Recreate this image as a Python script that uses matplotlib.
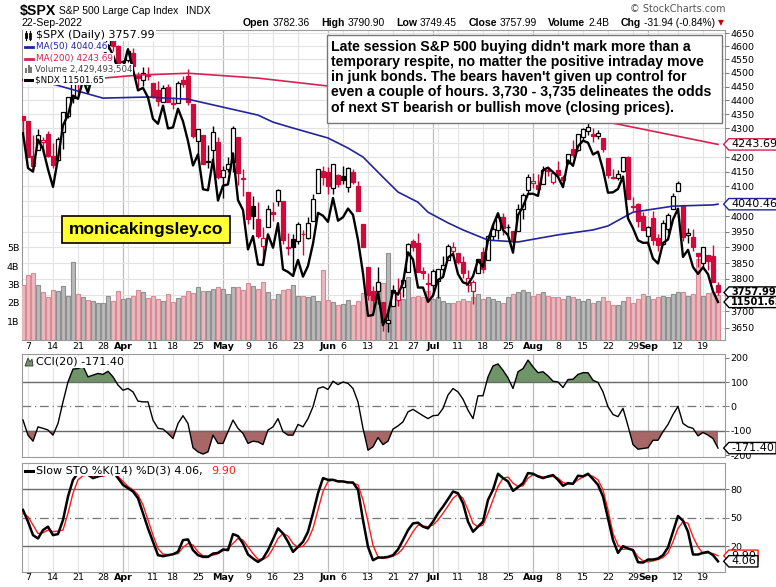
import numpy as np
import matplotlib
matplotlib.use("Agg")
import matplotlib.pyplot as plt
from matplotlib.path import Path
from matplotlib.patches import Rectangle, Polygon
from matplotlib.lines import Line2D
import matplotlib.transforms as mtrans
from matplotlib.ticker import NullLocator

# ---------------- data ----------------
spx_open = [4342.12, 4327.01, 4202.66, 4223.10, 4252.55, 4279.50, 4202.75, 4188.82, 4288.14, 4345.11,
            4407.34, 4462.40, 4469.10, 4493.10, 4469.98, 4522.91, 4541.09, 4602.86, 4624.20, 4599.02,
            4540.32, 4547.97, 4572.45, 4494.17, 4474.65, 4494.15, 4462.64, 4437.59, 4394.30, 4449.12,
            4385.63, 4390.63, 4472.26, 4489.17, 4385.83, 4255.34, 4278.14, 4186.52, 4222.58, 4253.75,
            4130.61, 4159.78, 4181.18, 4270.43, 4128.17, 4081.27, 4035.18, 3990.08, 3903.95, 3963.90,
            4013.02, 4052.00, 4051.98, 3899.00, 3927.76, 3919.42, 3942.94, 3929.59, 3984.60, 4077.43, 4151.09,
            4149.78, 4095.41, 4137.57, 4134.72, 4096.47, 4147.12, 4101.65, 3974.39, 3838.15, 3763.52,
            3764.05, 3728.18, 3665.90, 3715.31, 3733.89, 3774.71, 3821.75, 3920.76, 3913.00, 3825.09, 3785.99,
            3781.00, 3792.61, 3831.98, 3858.85, 3888.26, 3880.94, 3851.95, 3779.67, 3763.99, 3818.00,
            3883.79, 3860.73, 3935.32, 3955.47, 3998.43, 3965.72, 3953.22, 3951.43, 4026.13, 4087.33,
            4112.38, 4104.21, 4107.96, 4154.85, 4115.87, 4155.93, 4133.11, 4181.02, 4227.40, 4225.02,
            4269.37, 4290.46, 4280.40, 4273.13, 4266.31, 4195.08, 4133.09, 4126.55, 4153.26, 4198.74,
            4034.58, 4041.25, 4000.67,
            3936.73, 3994.66, 3930.89, 3909.43, 3959.94, 4022.94, 4083.67, 4037.12, 3940.73, 3932.41,
            3880.95, 3849.91, 3875.23, 3871.40, 3782.36]
spx_high = [4342.12, 4327.01, 4276.94, 4299.40, 4268.28, 4291.01, 4247.57, 4271.05, 4357.86, 4412.67,
            4465.40, 4481.75, 4522.00, 4501.07, 4520.58, 4546.03, 4575.65, 4637.30, 4627.77, 4603.07,
            4548.70, 4583.50, 4593.45, 4503.94, 4521.16, 4520.41, 4464.35, 4471.00, 4453.92, 4460.46,
            4410.31, 4471.03, 4488.29, 4512.94, 4385.83, 4299.02, 4278.14, 4240.71, 4308.45, 4269.68,
            4169.81, 4200.10, 4307.66, 4270.43, 4157.69, 4081.27, 4068.82, 4049.09, 3964.80, 4038.88,
            4046.46, 4090.72, 4051.98, 3945.96, 3943.42, 3981.88, 3955.68, 3999.33, 4075.14, 4158.49, 4168.34,
            4166.54, 4177.51, 4142.67, 4168.78, 4164.86, 4160.14, 4119.10, 3974.39, 3838.15, 3778.18,
            3837.56, 3728.18, 3707.71, 3779.65, 3801.79, 3802.58, 3913.65, 3927.72, 3945.86, 3836.50, 3818.99,
            3829.82, 3832.19, 3870.91, 3910.63, 3918.50, 3880.94, 3873.41, 3829.44, 3796.41, 3863.62,
            3902.44, 3939.81, 3974.13, 3999.29, 4012.44, 3975.30, 3953.22, 4039.56, 4078.95, 4140.15,
            4144.95, 4140.47, 4167.66, 4161.29, 4151.58, 4186.62, 4137.30, 4211.03, 4257.91, 4280.47,
            4301.79, 4325.28, 4302.18, 4292.53, 4266.31, 4195.08, 4159.77, 4156.56, 4200.54, 4203.04,
            4062.99, 4044.98, 4015.37,
            3970.23, 4018.43, 3942.55, 3987.89, 4010.50, 4076.81, 4119.28, 4037.12, 3961.94, 3959.14,
            3880.95, 3900.45, 3876.01, 3907.07, 3790.90]
spx_low = [4284.98, 4199.85, 4157.87, 4223.10, 4209.80, 4200.49, 4161.72, 4187.90, 4229.34, 4335.65,
           4390.57, 4424.30, 4469.10, 4455.81, 4465.17, 4501.07, 4517.69, 4589.66, 4581.32, 4530.41,
           4507.57, 4539.21, 4514.17, 4450.04, 4450.30, 4474.60, 4408.38, 4381.34, 4392.70, 4394.59,
           4370.30, 4390.63, 4448.76, 4384.47, 4267.62, 4200.82, 4175.04, 4162.90, 4188.63, 4124.28,
           4062.51, 4147.08, 4148.91, 4106.01, 4067.91, 3975.48, 3958.17, 3928.82, 3858.87, 3963.90,
           3983.99, 4033.93, 3911.91, 3876.58, 3810.32, 3909.04, 3875.13, 3925.03, 3984.60, 4077.43, 4104.88,
           4073.85, 4074.37, 4098.67, 4109.18, 4080.19, 4107.20, 4017.17, 3900.16, 3734.30, 3705.68,
           3722.30, 3639.77, 3636.87, 3715.31, 3717.69, 3743.52, 3821.75, 3889.66, 3820.14, 3799.02, 3738.67,
           3752.10, 3742.06, 3809.37, 3858.85, 3869.34, 3847.22, 3802.36, 3759.07, 3721.56, 3817.18,
           3818.63, 3860.73, 3922.03, 3927.64, 3938.85, 3943.46, 3910.74, 3951.43, 3992.97, 4079.22,
           4096.02, 4079.81, 4107.96, 4135.42, 4107.31, 4128.97, 4112.09, 4177.26, 4201.41, 4219.78,
           4256.90, 4277.77, 4253.08, 4261.98, 4218.70, 4129.86, 4124.03, 4119.97, 4147.59, 4057.66,
           4017.42, 3965.21, 3954.53,
           3903.65, 3906.21, 3886.75, 3906.03, 3944.81, 4022.94, 4083.67, 3921.73, 3912.67, 3888.28,
           3837.08, 3838.50, 3827.54, 3789.49, 3749.45]
spx_close = [4328.87, 4201.09, 4170.70, 4277.88, 4259.52, 4204.31, 4173.11, 4262.45, 4357.86, 4411.67,
             4463.12, 4461.18, 4511.61, 4456.24, 4520.16, 4543.06, 4575.52, 4631.60, 4602.45, 4530.41,
             4545.86, 4582.64, 4525.12, 4481.15, 4500.21, 4488.28, 4412.53, 4397.45, 4446.59, 4392.59,
             4391.69, 4462.21, 4459.45, 4393.66, 4271.78, 4296.12, 4175.20, 4183.96, 4287.50, 4131.93,
             4155.38, 4175.48, 4300.17, 4146.87, 4123.34, 3991.24, 4001.05, 3935.18, 3930.08, 4023.89,
             4008.01, 4088.85, 3923.68, 3900.79, 3901.36, 3973.75, 3941.48, 3978.73, 4057.84, 4158.24, 4132.15,
             4101.23, 4176.82, 4108.54, 4121.43, 4160.68, 4115.77, 4017.82, 3900.86, 3749.63, 3735.48,
             3789.99, 3666.77, 3674.84, 3764.79, 3759.89, 3795.73, 3911.74, 3900.11, 3821.55, 3818.83, 3785.38,
             3825.33, 3831.39, 3845.08, 3902.62, 3899.38, 3854.43, 3818.80, 3801.78, 3790.38, 3863.16,
             3830.85, 3936.69, 3959.90, 3998.95, 3961.63, 3966.84, 3921.05, 4023.61, 4072.43, 4130.29,
             4118.63, 4091.19, 4155.17, 4151.94, 4145.19, 4140.06, 4122.47, 4210.24, 4207.27, 4280.15,
             4297.14, 4305.20, 4274.04, 4283.74, 4228.48, 4137.99, 4128.73, 4140.77, 4199.12, 4057.66,
             4030.61, 3986.16, 3955.00,
             3966.85, 3924.26, 3908.19, 3979.87, 4006.18, 4067.36, 4110.41, 3932.69, 3946.01, 3901.35,
             3873.33, 3899.89, 3855.93, 3789.93, 3757.99]
prev_close_first = 4363.49

volume_bn = [2.97, 3.5, 3.6, 3.0, 2.6, 2.3, 2.7, 2.65, 2.9, 2.4, 4.2, 2.47, 2.3, 2.15, 2.1, 2.0, 2.0, 2.4, 2.1, 2.63,
             2.2, 2.25, 2.4, 2.7, 2.6, 2.27, 2.4, 2.2, 2.13, 2.47, 2.05, 2.25, 2.4, 2.63, 2.52, 2.85, 2.63, 2.63, 2.75, 2.85,
             2.73, 2.47, 2.85, 2.85, 2.7, 3.08, 2.9, 2.73, 3.12, 2.6, 2.2, 2.47, 2.7, 2.73, 2.95, 2.4, 2.4, 2.32, 2.36, 2.13, 3.77,
             2.15, 2.05, 1.87, 1.95, 2.15, 1.87, 2.1, 2.55, 3.1, 2.6, 3.07, 3.06, 4.7, 2.25, 2.3, 2.2, 3.42, 2.3, 2.4, 2.3, 2.65,
             2.2, 2.3, 2.1, 2.0, 2.0, 2.1, 2.2, 2.1, 2.3, 2.5, 2.2, 2.3, 2.2, 2.1, 2.0, 2.3, 2.5, 2.6, 2.7, 2.6,
             2.4, 2.5, 2.6, 2.4, 2.3, 2.3, 2.2, 2.4, 2.3, 2.2, 2.1, 2.2, 2.0, 2.1, 2.3, 2.1, 1.9, 1.9, 2.1, 2.3, 2.0, 2.2, 2.5,
             2.4, 2.2, 2.3, 2.4, 2.3, 2.5, 2.6, 2.6, 2.4, 2.5, 4.36, 2.4, 2.55, 2.6, 2.43]

ndx_close = [13837.83, 13319.38, 13267.04, 13742.06, 13602.09, 13301.83, 13046.64, 13458.72, 13956.42, 14118.60,
             14420.18, 14368.57, 14666.48, 14468.07, 14773.30, 14788.15, 15006.28, 15239.52, 15076.60, 14838.49,
             14861.28, 15172.28, 14837.84, 14502.48, 14542.20, 14390.67, 14057.40, 13981.12, 14262.25, 13910.29,
             13925.84, 14215.04, 14018.62, 13719.35, 13357.20, 13520.78, 13013.57, 12999.79, 13445.31, 12854.80,
             13064.70, 13083.13, 13535.70, 12859.81, 12721.12, 12184.64, 12362.85, 11984.52, 11977.88, 12387.40,
             12206.39, 12538.25, 11921.46, 11887.49, 11835.17, 12044.71, 11826.04, 11965.52, 12261.64, 12681.42, 12642.10,
             12557.44, 12889.09, 12573.42, 12620.88, 12741.56, 12653.75, 12311.41, 11869.23, 11328.22, 11339.35,
             11629.72, 11213.24, 11359.48, 11636.02, 11594.13, 11744.37, 12145.24, 12050.17, 11685.62, 11685.22, 11503.72,
             11584.25, 11784.00, 11820.00, 12076.00, 12125.00, 11860.00, 11752.00, 11730.00, 11831.00, 12041.00,
             11954.00, 12306.00, 12512.00, 12677.00, 12446.00, 12376.00, 12141.00, 12650.00, 12771.00, 12947.97,
             12950.0, 12920.0, 13290.0, 13325.0, 13261.0, 13191.0, 13044.0, 13431.0, 13352.0, 13642.0,
             13725.0, 13695.0, 13519.0, 13560.0, 13299.0, 12965.0, 12970.0, 13018.0, 13197.0, 12605.0,
             12470.0, 12306.0, 12272.0,
             12274.0, 12063.0, 11998.0, 12269.0, 12317.0, 12591.0, 12740.0, 12084.0, 12178.0, 11951.0,
             11862.0, 11948.0, 11858.0, 11637.0, 11501.65]

ma50_at = [0, 6, 16, 25, 33, 47, 50, 54, 61, 65, 68, 72, 75, 79, 81, 85, 88, 93, 99, 107, 114, 117, 122, 130, 138, 139]
ma50_val = [4475, 4459, 4408, 4412, 4404, 4347, 4322, 4301, 4266, 4231, 4200, 4131, 4081, 4047, 4014, 3979, 3956,
            3923, 3917, 3940, 3956, 3969, 4014, 4034, 4038, 4040.46]
ma200_at = [0, 16, 23, 33, 47, 61, 82, 100, 117, 139]
ma200_val = [4472, 4481, 4492, 4499, 4481, 4452, 4420, 4375, 4322, 4243.69]

cci20 = [-56, -118, -143, -84, -90, -97, -118, -70, 19, 101, 154, 156, 166, 122, 129, 136, 132, 145, 122, 88,
         67, 74, 60, 22, 19, 19, -56, -90, -93, -111, -132, -70, -38, -70, -170, -187, -196, -187, -118, -152,
         -152, -104, -56, -90, -111, -152, -143, -146, -157, -97, -84, -50, -104, -118, -118, -74, -84, -50, -1, 74,
         81, 70, 104, 90, 101, 95, 74, 19, -90, -180, -166, -128, -157, -143, -93, -80, -63, -22, -12, -25,
         -38, -50, -38, -36, -8, 47, 74, 60, 30, -15, -50, 44, 44, 122, 167, 175, 149, 118, 74, 143,
         156, 191, 163, 139, 143, 126, 104, 101, 78, 111, 112, 132, 139, 139, 108, 99, 60, -1, -33, -42,
         -8, -80, -157, -176, -173, -170, -139, -139, -104, -74, -33, 0, -70, -84, -90, -121, -107, -118, -132, -171.40]

sto_k = [58.1, 45.8, 31.6, 28.1, 36.9, 40.5, 31.6, 32.7, 47.5, 72.2, 89.8, 96.9, 96.9, 95.1, 91.6, 93.4, 95.1, 98.7, 98.7, 91.6,
         84.5, 81.0, 77.5, 70.4, 54.6, 38.7, 24.6, 10.5, 9.4, 10.5, 11.5, 14.0, 26.4, 27.1, 15.8, 10.5, 8.7, 8.7, 12.2, 12.9,
         16.5, 15.8, 32.7, 30.6, 22.8, 11.2, 7.0, 3.4, 7.0, 15.8, 27.1, 38.7, 33.4, 24.6, 14.0, 19.3, 24.6, 35.2, 54.6, 75.7,
         91.6, 89.8, 89.8, 88.1, 88.1, 87.0, 87.0, 79.3, 47.5, 19.3, 5.2, 8.0,
         8.0, 8.7, 10.5, 16.5, 26.4, 36.9, 44.0, 44.7, 40.5, 38.7, 45.8, 54.6, 61.6, 69.4, 77.5, 75.7, 65.1, 45.8, 35.2, 40.5,
         45.8, 68.7, 79.3, 96.2, 91.6, 88.1, 78.2, 82.1, 86.3, 96.9, 96.2, 93.4, 91.6, 93.4, 94.8, 89.8, 83.5, 86.3, 85.6, 94.1,
         93.4, 96.2, 90.5, 84.5, 72.2, 49.3, 26.4, 12.9, 20.0, 17.5, 15.8, 3.1, 2.7, 5.9, 5.9, 7.0, 10.5, 18.6, 35.2, 51.7,
         46.8, 35.2, 11.2, 11.2, 12.9, 14.0, 10.5, 4.06]
sto_d = [54.6, 51.0, 42.2, 33.4, 34.1, 36.9, 35.2, 35.9, 36.9, 54.6, 75.7, 89.8, 94.1, 95.1, 93.4, 93.4, 93.4, 96.2, 96.9, 93.4,
         88.1, 82.8, 79.3, 74.0, 63.4, 47.5, 31.6, 17.5, 11.5, 11.2, 11.2, 12.2, 18.6, 22.8, 21.1, 14.0, 9.8, 9.8, 10.5, 12.2,
         15.1, 17.5, 22.8, 28.1, 26.4, 19.3, 12.2, 6.2, 5.9, 9.4, 17.5, 28.1, 33.4, 30.6, 22.8, 18.6, 20.0, 26.4, 38.7, 58.1,
         77.5, 88.1, 89.8, 88.8, 88.1, 87.7, 86.3, 84.5, 68.7, 45.8, 21.1, 8.7,
         7.0, 8.0, 9.4, 12.2, 17.5, 26.4, 35.2, 42.2, 41.2, 40.5, 42.2, 47.5, 54.6, 62.3, 70.4, 74.7, 70.4, 58.1, 44.0, 40.5,
         42.2, 54.6, 68.7, 82.8, 91.6, 92.7, 86.3, 82.8, 83.5, 91.6, 95.1, 94.1, 92.7, 92.7, 93.4, 91.6, 87.0, 85.6, 85.6, 89.8,
         92.7, 95.1, 93.4, 89.8, 79.3, 58.1, 33.4, 21.1, 16.5, 17.5, 16.5, 8.7, 4.5, 3.4, 4.5, 5.9, 8.0, 12.9, 24.6, 38.7,
         45.8, 44.0, 29.9, 19.3, 12.2, 12.9, 12.2, 9.9]

tick_at = [1, 6, 11, 16, 20, 26, 30, 35, 40, 45, 50, 55, 61, 64, 69, 74, 78, 82, 87, 92, 97, 102, 107, 112, 117, 122, 125, 131, 136]
tick_lab = ['7', '14', '21', '28', 'Apr', '11', '18', '25', 'May', '9', '16', '23', 'Jun', '6', '13', '21', '27',
            'Jul', '11', '18', '25', 'Aug', '8', '15', '22', '29', 'Sep', '12', '19']
month_names = ['Apr', 'May', 'Jun', 'Jul', 'Aug', 'Sep']
hidden_week_at = [21, 83, 127]
price_levels = list(range(3650, 4651, 50))
price_labels_hidden = [4250, 3750]   # covered by the value tags in the chart

header_fields = [('Open', '3782.36'), ('High', '3790.90'), ('Low', '3749.45'), ('Close', '3757.99'),
                 ('Volume', '2.4B'), ('Chg', '-31.94 (-0.84%)')]

# ---------------- figure ----------------
W, H = 776, 587
fig = plt.figure(figsize=(W / 100, H / 100), dpi=100)
fig.patch.set_facecolor('white')
renderer = fig.canvas.get_renderer()

def frect(x0, y0, x1, y1):
    return [x0 / W, 1 - y1 / H, (x1 - x0) / W, (y1 - y0) / H]

def fx(x):
    return x / W

def fy(y):
    return 1 - y / H

o = np.array(spx_open); hi = np.array(spx_high); lo = np.array(spx_low); c = np.array(spx_close)
n = len(c)
xi = np.arange(n)
prev = np.r_[prev_close_first, c[:-1]]
down = c < prev
XL = (-0.2, 140.4)
SPX_LIM = (3614.2, 4661.5)
NDX_LIM = (11033.0, 15494.0)

MAIN = frect(22, 30, 725, 340)
CCIR = frect(22, 354, 725, 457)
STOR = frect(22, 463, 725, 572)
GRID_C = '#e3e3e3'
MONTH_C = '#bcbcbc'
SPINE_C = '#9a9a9a'
RED = '#d10a3c'
MA50_C = '#23239c'
MA200_C = '#d42350'
TICK_FS = 6.8

month_at = [t for t, l in zip(tick_at, tick_lab) if l in month_names]
week_at = [t for t, l in zip(tick_at, tick_lab) if l not in month_names] + hidden_week_at

def vgrid(a):
    for t in week_at:
        a.axvline(t, color=GRID_C, lw=0.8, zorder=0)
    for t in month_at:
        a.axvline(t, color=MONTH_C, lw=0.9, zorder=0)

def spines(a, show=True):
    for s in a.spines.values():
        s.set_color(SPINE_C)
        s.set_linewidth(0.8)
        s.set_visible(show)

# grid / base axes
axg = fig.add_axes(MAIN)
axg.set_facecolor('white')
axg.set_yscale('log')
axg.set_ylim(*SPX_LIM)
axg.set_xlim(*XL)
vgrid(axg)
for lv in price_levels:
    axg.axhline(lv, color=GRID_C, lw=0.8, zorder=0)
axg.set_yticks([])
axg.yaxis.set_minor_locator(NullLocator())
axg.set_xticks(tick_at, tick_lab)
axg.tick_params(axis='x', length=0, pad=1.5, labelsize=TICK_FS)
for t in axg.get_xticklabels():
    if t.get_text() in month_names:
        t.set_fontweight('bold')
spines(axg)

# volume
axv = fig.add_axes(MAIN)
axv.set_facecolor('none')
axv.set_xlim(*XL)
axv.set_ylim(0, 310 / 18.5)
vcol = np.where(down, '#e9b9bd', '#b9b9b9')
vedge = np.where(down, '#d98a94', '#8f8f8f')
axv.bar(xi, volume_bn, width=0.86, color=vcol, edgecolor=vedge, linewidth=0.8, zorder=1)
axv.set_yticks([1, 2, 3, 4, 5], ['1B', '2B', '3B', '4B', '5B'])
axv.tick_params(axis='y', length=0, pad=2, labelsize=TICK_FS)
axv.set_xticks([])
spines(axv, False)

# price
ax = fig.add_axes(MAIN)
ax.set_facecolor('none')
ax.set_yscale('log')
ax.set_xlim(*XL)
ax.set_ylim(*SPX_LIM)
ccol = np.where(down, RED, 'black')
filled = c < o
face = np.where(filled, ccol, 'white')
ax.vlines(xi, lo, hi, colors=ccol, lw=1.0, zorder=3)
body_lo = np.minimum(o, c)
body_h = np.maximum(np.abs(c - o), 0.6)
ax.bar(xi, body_h, bottom=body_lo, width=0.72, color=face, edgecolor=ccol, linewidth=0.9, zorder=4)
ax.plot(ma200_at, ma200_val, color=MA200_C, lw=1.2, zorder=5)
ax.plot(ma50_at, ma50_val, color=MA50_C, lw=1.2, zorder=5)
ax.yaxis.tick_right()
ax.set_yticks(price_levels, ['' if v in price_labels_hidden else str(v) for v in price_levels])
ax.yaxis.set_minor_locator(NullLocator())
ax.tick_params(axis='y', direction='out', length=3, width=0.7, color='#777777', pad=1, labelsize=TICK_FS)
ax.set_xticks([])
spines(ax, False)

# NDX overlay
axn = fig.add_axes(MAIN)
axn.set_facecolor('none')
axn.set_yscale('log')
axn.set_xlim(*XL)
axn.set_ylim(*NDX_LIM)
axn.plot(xi, ndx_close, color='black', lw=1.7, zorder=6)
axn.set_xticks([]); axn.set_yticks([])
axn.yaxis.set_minor_locator(NullLocator())
spines(axn, False)

# CCI panel
axc = fig.add_axes(CCIR)
axc.set_xlim(*XL)
axc.set_ylim(-208, 216)
vgrid(axc)
cci = np.array(cci20, dtype=float)
axc.fill_between(xi, 100, cci, where=cci > 100, interpolate=True, color='#6e9468', lw=0, zorder=1)
axc.fill_between(xi, -100, cci, where=cci < -100, interpolate=True, color='#a86767', lw=0, zorder=1)
axc.axhline(100, color='#6a6a6a', lw=1.0, zorder=2)
axc.axhline(-100, color='#6a6a6a', lw=1.0, zorder=2)
axc.axhline(0, color='#777777', lw=0.9, ls=(0, (7, 3, 1, 3)), zorder=2)
axc.plot(xi, cci, color='black', lw=1.0, zorder=3)
axc.yaxis.tick_right()
axc.set_yticks([200, 100, 0, -100, -200], ['200', '100', '0', '-100', '-200'])
axc.tick_params(axis='y', direction='out', length=3, width=0.7, color='#777777', pad=1, labelsize=TICK_FS)
axc.set_xticks([])
spines(axc)

# STO panel
axs = fig.add_axes(STOR)
axs.set_xlim(*XL)
axs.set_ylim(-7.2, 107.5)
vgrid(axs)
axs.axhline(80, color='#6a6a6a', lw=1.0, zorder=2)
axs.axhline(20, color='#6a6a6a', lw=1.0, zorder=2)
axs.axhline(50, color='#777777', lw=0.9, ls=(0, (7, 3, 1, 3)), zorder=2)
axs.plot(xi, sto_d, color='#ff1a1a', lw=1.0, zorder=3)
axs.plot(xi, sto_k, color='black', lw=1.8, zorder=4)
axs.yaxis.tick_right()
axs.set_yticks([80, 50, 20], ['80', '50', '20'])
axs.tick_params(axis='y', direction='out', length=3, width=0.7, color='#777777', pad=1, labelsize=TICK_FS)
axs.set_xticks(tick_at, tick_lab)
axs.tick_params(axis='x', length=0, pad=1.0, labelsize=TICK_FS)
for t in axs.get_xticklabels():
    if t.get_text() in month_names:
        t.set_fontweight('bold')
spines(axs)

# ---------------- value tags on the right ----------------
def tag_path(x0, y0, width, height, mutation_size):
    padx = 0.2 * mutation_size
    pady = 0.06 * mutation_size
    x0 -= padx
    y0 -= pady
    w = width + 2 * padx
    h = height + 2 * pady
    tip = h * 0.45
    verts = [(x0, y0), (x0 + w, y0), (x0 + w, y0 + h), (x0, y0 + h), (x0 - tip, y0 + h / 2), (x0, y0)]
    codes = [Path.MOVETO] + [Path.LINETO] * 4 + [Path.CLOSEPOLY]
    return Path(verts, codes)

def tag(axis, value, text, ec, bold=False, fs=8):
    tr = mtrans.blended_transform_factory(fig.transFigure, axis.transData)
    fig.text(fx(731), value, text, transform=tr, va='center', ha='left', fontsize=fs,
             fontweight='bold' if bold else 'normal', color='black',
             bbox=dict(boxstyle=tag_path, fc='white', ec=ec, lw=1.0))

tag(ax, ma200_val[-1], '4243.69', MA200_C)
tag(ax, ma50_val[-1], '4040.46', MA50_C)
tag(ax, spx_close[-1], '3757.99', 'black', bold=True, fs=7.1)
tag(axn, ndx_close[-1], '11501.65', 'black', bold=True, fs=7.1)
tag(axc, cci20[-1], '-171.40', 'black')
tag(axs, sto_d[-1], '9.90', '#ff1a1a')
tag(axs, sto_k[-1], '4.06', 'black')

# ---------------- header ----------------
HF = 'Liberation Sans'
fig.text(fx(20), fy(11), '$SPX', fontsize=10.2, fontweight='bold', family=HF, va='center')
fig.text(fx(59), fy(11), 'S&P 500 Large Cap Index', fontsize=7.4, family=HF, va='center')
fig.text(fx(186), fy(11), 'INDX', fontsize=7.4, family=HF, va='center')
fig.text(fx(21), fy(23), '22-Sep-2022', fontsize=7.6, family=HF, va='center')
fig.text(fx(725), fy(9), '\u00a9 StockCharts.com', fontsize=7, color='#555555', ha='right', va='center')

pieces = []
for lab, val in header_fields:
    tl = fig.text(0, fy(23), lab, fontsize=7.6, family=HF, fontweight='bold', va='center')
    tv = fig.text(0, fy(23), val, fontsize=7.4, family=HF, va='center')
    pieces.append((tl, tv))
inner_gap = 3.0
widths = [(tl.get_window_extent(renderer).width, tv.get_window_extent(renderer).width) for tl, tv in pieces]
total = sum(a + b + inner_gap for a, b in widths)
outer_gap = (715 - 243 - total) / (len(pieces) - 1)
xcur = 243.0
for (tl, tv), (wl, wv) in zip(pieces, widths):
    tl.set_x(fx(xcur))
    tv.set_x(fx(xcur + wl + inner_gap))
    xcur += wl + inner_gap + wv + outer_gap
fig.text(fx(718), fy(23), '\u25bc', fontsize=5.5, color='#cc0000', va='center')

# ---------------- legends ----------------
LBOX = dict(boxstyle='square,pad=0.08', fc='white', ec='none')
def leg(xp, yp, s, color='black', fs=8, **kw):
    fig.text(fx(xp), fy(yp), s, fontsize=fs, color=color, va='center', ha='left', bbox=LBOX, **kw)

def fline(x0, y0, x1, y1, color, lw):
    fig.add_artist(Line2D([fx(x0), fx(x1)], [fy(y0), fy(y1)], color=color, lw=lw, transform=fig.transFigure))

fig.add_artist(Rectangle((fx(23), fy(85)), fx(12), 55 / H, fc='white', ec='none', transform=fig.transFigure))
leg(36, 35.5, '$SPX (Daily) 3757.99')
leg(36, 47, 'MA(50) 4040.46', color=MA50_C, fs=6.4)
leg(36, 58.5, 'MA(200) 4243.69', color=MA200_C, fs=6.4)
leg(35, 69.5, 'Volume 2,429,493,504', color='#444444', fs=6.2)
leg(35, 80, '$NDX 11501.65', fs=6.3)
fline(26, 31, 26, 40, 'black', 0.8)
fig.add_artist(Rectangle((fx(25), fy(38)), 2 / W, 5 / H, fc='black', ec='black', lw=0.6, transform=fig.transFigure))
fline(30, 31, 30, 40, 'black', 0.8)
fig.add_artist(Rectangle((fx(29), fy(39)), 2 / W, 6 / H, fc='white', ec='black', lw=0.6, transform=fig.transFigure))
fline(25, 47, 33, 47, MA50_C, 2)
fline(25, 58.5, 33, 58.5, MA200_C, 2)
for k, hh in enumerate([5, 8, 6]):
    fig.add_artist(Rectangle((fx(25 + 2.6 * k), fy(73)), 2 / W, hh / H, fc='#777777', ec='none',
                             transform=fig.transFigure))
fline(25, 80, 33, 80, 'black', 2.2)

fig.add_artist(Polygon([(fx(25), fy(366)), (fx(28), fy(358)), (fx(30), fy(362)), (fx(32), fy(359)), (fx(33), fy(366))],
                       closed=True, fc='#6e9468', ec='#333333', lw=0.6, transform=fig.transFigure))
leg(36, 362, 'CCI(20) -171.40')

fline(25, 470.5, 33, 470.5, 'black', 2.2)
leg(36, 470.5, 'Slow STO %K(14) %D(3) 4.06,')
fig.text(fx(211), fy(470.5), '9.90', fontsize=8, color='#ff1a1a', va='center', ha='left', bbox=LBOX)

# ---------------- annotation boxes ----------------
fig.add_artist(Rectangle((fx(327), fy(123)), (722 - 327) / W, (123 - 35) / H, fc='white', ec='#777777', lw=1.0,
                         transform=fig.transFigure))
note = ("Late session S&P 500 buying didn't mark more than a\n"
        "temporary respite, no matter the positive intraday move\n"
        "in junk bonds. The bears haven't given up control for\n"
        "even a couple of hours. 3,730 - 3,735 delineates the odds\n"
        "of next ST bearish or bullish move (closing prices).")
fig.text(fx(331), fy(39.5), note, fontsize=10.15, fontweight='bold', family=HF, va='top', ha='left', linespacing=1.115)

fig.add_artist(Rectangle((fx(62), fy(243)), (230 - 62) / W, (243 - 216) / H, fc='#ffff33', ec='black', lw=1.2,
                         transform=fig.transFigure))
fig.text(fx(146), fy(229.5), 'monicakingsley.co', fontsize=12.5, fontweight='bold', family=HF, va='center', ha='center')

fig.savefig('out.png', dpi=100, facecolor='white')
